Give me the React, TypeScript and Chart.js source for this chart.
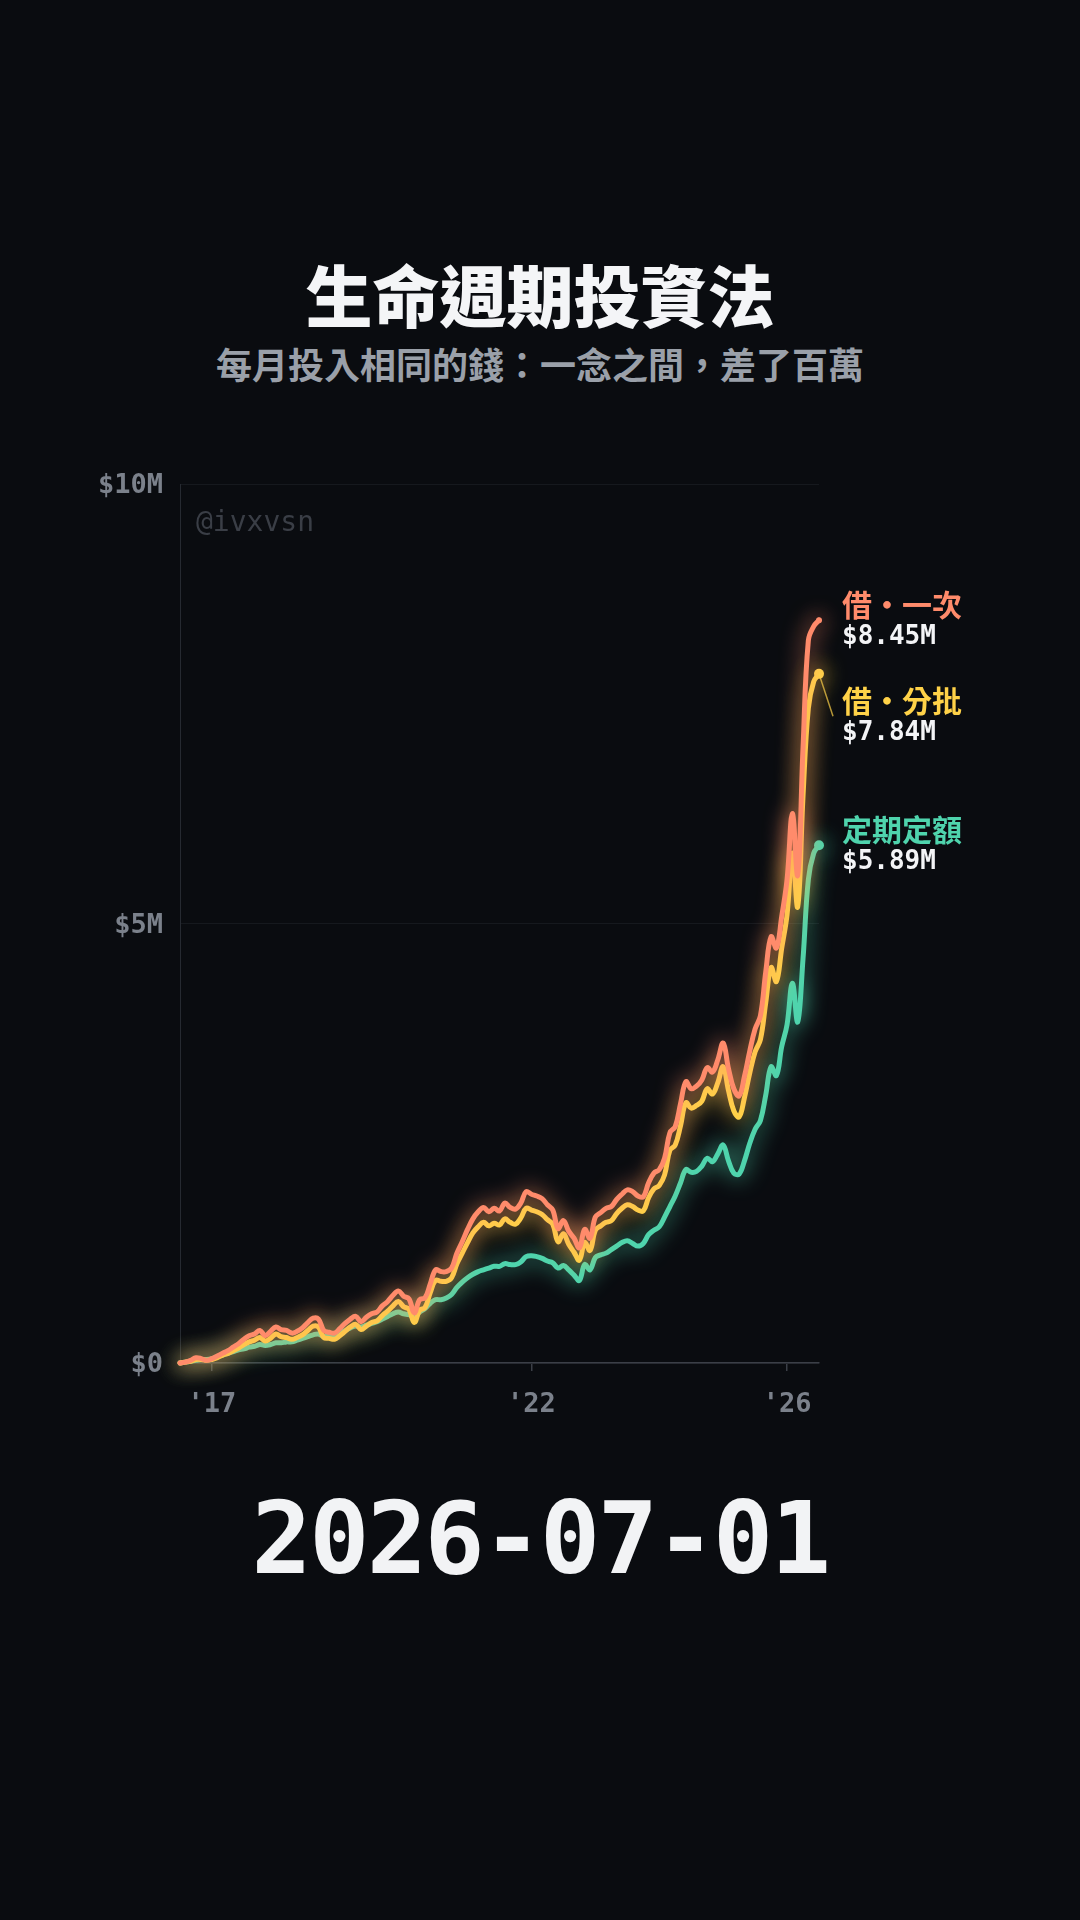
import React, { useEffect, useRef } from "react";
import { Chart, registerables } from "chart.js";

Chart.register(...registerables);

// ---- data (values in $M, monthly from 2016-07 to 2026-07) ----
const START_YEAR = 2016;
const START_MONTH = 7;

const SERIES_NAMES = ["借・一次", "借・分批", "定期定額"];
const SERIES_COLORS = ["#ff8b6b", "#ffd248", "#4fd4ad"];
const END_VALUE_LABELS = ["$8.45M", "$7.84M", "$5.89M"];

const LUMP = [
  0.0, 0.01, 0.03, 0.06, 0.05, 0.03, 0.05, 0.08, 0.11, 0.14,
  0.18, 0.22, 0.27, 0.31, 0.33, 0.37, 0.31, 0.36, 0.41, 0.38,
  0.37, 0.34, 0.36, 0.4, 0.46, 0.51, 0.5, 0.37, 0.35, 0.34,
  0.39, 0.45, 0.5, 0.53, 0.47, 0.52, 0.56, 0.58, 0.65, 0.7,
  0.77, 0.82, 0.76, 0.73, 0.57, 0.72, 0.74, 0.9, 1.06, 1.04,
  1.04, 1.08, 1.25, 1.38, 1.52, 1.64, 1.72, 1.77, 1.72, 1.76,
  1.73, 1.82, 1.77, 1.75, 1.82, 1.95, 1.92, 1.9, 1.87, 1.8,
  1.74, 1.53, 1.62, 1.5, 1.42, 1.31, 1.52, 1.42, 1.66, 1.71,
  1.76, 1.78, 1.86, 1.92, 1.97, 1.95, 1.9, 1.89, 2.05, 2.16,
  2.2, 2.33, 2.62, 2.69, 2.95, 3.2, 3.12, 3.15, 3.22, 3.36,
  3.31, 3.45, 3.64, 3.35, 3.12, 3.04, 3.26, 3.55, 3.8, 3.95,
  4.45, 4.85, 4.72, 5.08, 5.5, 6.25, 5.55, 7.0, 8.22, 8.38,
  8.45,
];

const SPLIT = [
  0.0, 0.01, 0.02, 0.04, 0.04, 0.03, 0.04, 0.06, 0.09, 0.11,
  0.14, 0.17, 0.21, 0.24, 0.26, 0.29, 0.25, 0.28, 0.33, 0.3,
  0.29, 0.27, 0.29, 0.32, 0.37, 0.42, 0.41, 0.29, 0.28, 0.27,
  0.31, 0.36, 0.41, 0.44, 0.38, 0.42, 0.46, 0.48, 0.54, 0.59,
  0.65, 0.7, 0.64, 0.61, 0.46, 0.6, 0.63, 0.8, 0.94, 0.93,
  0.93, 0.97, 1.13, 1.25, 1.37, 1.48, 1.55, 1.6, 1.56, 1.59,
  1.57, 1.64, 1.6, 1.58, 1.65, 1.76, 1.74, 1.72, 1.69, 1.63,
  1.58, 1.38, 1.47, 1.35, 1.26, 1.17, 1.37, 1.28, 1.51, 1.56,
  1.6, 1.62, 1.7, 1.76, 1.8, 1.78, 1.74, 1.73, 1.88, 1.98,
  2.02, 2.14, 2.42, 2.48, 2.7, 2.96, 2.9, 2.93, 2.98, 3.12,
  3.06, 3.19, 3.37, 3.1, 2.87, 2.8, 3.02, 3.3, 3.54, 3.68,
  4.1, 4.5, 4.34, 4.72, 5.1, 5.8, 5.19, 6.45, 7.45, 7.75,
  7.84,
];

const DCA = [
  0.0, 0.01, 0.02, 0.03, 0.04, 0.04, 0.05, 0.07, 0.09, 0.11,
  0.13, 0.15, 0.16, 0.18, 0.19, 0.21, 0.2, 0.21, 0.23, 0.23,
  0.24, 0.24, 0.26, 0.28, 0.3, 0.32, 0.33, 0.3, 0.31, 0.32,
  0.35, 0.37, 0.4, 0.42, 0.41, 0.43, 0.45, 0.47, 0.5, 0.53,
  0.56, 0.58, 0.56, 0.55, 0.52, 0.58, 0.62, 0.68, 0.72, 0.72,
  0.74, 0.78, 0.86, 0.92, 0.97, 1.01, 1.04, 1.06, 1.08, 1.1,
  1.1, 1.13, 1.12, 1.12, 1.15, 1.21, 1.22, 1.21, 1.19, 1.16,
  1.14, 1.08, 1.11, 1.06, 1.0, 0.94, 1.12, 1.06, 1.2, 1.23,
  1.25, 1.29, 1.33, 1.37, 1.39, 1.36, 1.33, 1.36, 1.46, 1.51,
  1.55, 1.66, 1.78, 1.9, 2.05, 2.2, 2.17, 2.18, 2.24, 2.33,
  2.29, 2.38, 2.48, 2.3, 2.16, 2.15, 2.3, 2.5, 2.66, 2.76,
  3.05, 3.37, 3.27, 3.6, 3.85, 4.32, 3.88, 4.6, 5.5, 5.8,
  5.89,
];

const SERIES = [LUMP, SPLIT, DCA];

const X_TICK_MONTHS = ["2017-01", "2022-01", "2026-01"];
const X_TICK_LABELS = ["'17", "'22", "'26"];
const Y_TICKS = [0, 5, 10];
const Y_TICK_LABELS = ["$0", "$5M", "$10M"];

const TITLE = "生命週期投資法";
const SUBTITLE = "每月投入相同的錢：一念之間，差了百萬";
const WATERMARK = "@ivxvsn";
const DATE_LABEL = "2026-07-01";

// ---- styles ----
const BG = "#0a0c10";
const MONO = '"DejaVu Sans Mono", "Liberation Mono", monospace';
const CJK = '"Noto Sans CJK TC", "Noto Sans CJK SC", sans-serif';

function monthIndex(ym: string): number {
  const [y, m] = ym.split("-").map(Number);
  return (y - START_YEAR) * 12 + (m - START_MONTH);
}

const X_TICK_IDX = X_TICK_MONTHS.map(monthIndex);
const LAST_IDX = LUMP.length - 1;

const glowPlugin = {
  id: "glow",
  beforeDatasetDraw(chart: any, args: any) {
    const ctx = chart.ctx;
    ctx.save();
    ctx.shadowColor = chart.data.datasets[args.index].borderColor;
    ctx.shadowBlur = 22;
  },
  afterDatasetDraw(chart: any) {
    chart.ctx.restore();
  },
};

const watermarkPlugin = {
  id: "watermark",
  beforeDatasetsDraw(chart: any) {
    const { ctx, chartArea } = chart;
    ctx.save();
    ctx.font = `28px ${MONO}`;
    ctx.fillStyle = "#3a3e46";
    ctx.textAlign = "left";
    ctx.textBaseline = "middle";
    ctx.fillText(WATERMARK, chartArea.left + 16, chartArea.top + 40);
    ctx.restore();
  },
};

const endLabelPlugin = {
  id: "endLabels",
  afterDatasetsDraw(chart: any) {
    const ctx = chart.ctx;
    const items = chart.data.datasets.map((_: any, i: number) => {
      const meta = chart.getDatasetMeta(i);
      const pt = meta.data[meta.data.length - 1];
      return { i, x: pt.x, y: pt.y, ly: pt.y };
    });
    items.sort((a: any, b: any) => a.y - b.y);
    let prev = -Infinity;
    for (const it of items) {
      it.ly = Math.max(it.y, prev + 96);
      prev = it.ly;
    }
    ctx.save();
    for (const it of items) {
      const color = SERIES_COLORS[it.i];
      const lx = it.x + 23;
      if (it.ly - it.y > 4) {
        ctx.strokeStyle = color;
        ctx.globalAlpha = 0.7;
        ctx.lineWidth = 1.5;
        ctx.beginPath();
        ctx.moveTo(it.x, it.y);
        ctx.lineTo(lx - 9, it.ly);
        ctx.stroke();
        ctx.globalAlpha = 1;
      }
      ctx.textAlign = "left";
      ctx.textBaseline = "middle";
      ctx.fillStyle = color;
      ctx.font = `bold 30px ${CJK}`;
      ctx.fillText(SERIES_NAMES[it.i], lx, it.ly - 16);
      ctx.fillStyle = "#f3f4f6";
      ctx.font = `bold 26px ${MONO}`;
      ctx.fillText(END_VALUE_LABELS[it.i], lx, it.ly + 17);
    }
    ctx.restore();
  },
};

export default function App() {
  const canvasRef = useRef<HTMLCanvasElement | null>(null);

  useEffect(() => {
    document.body.style.margin = "0";
    document.body.style.background = BG;
    const canvas = canvasRef.current;
    if (!canvas) return;

    const datasets = SERIES.map((vals, s) => ({
      label: SERIES_NAMES[s],
      data: vals.map((v, i) => ({ x: i, y: v })),
      borderColor: SERIES_COLORS[s],
      backgroundColor: SERIES_COLORS[s],
      borderWidth: 5,
      tension: 0.4,
      borderCapStyle: "round" as const,
      borderJoinStyle: "round" as const,
      pointRadius: vals.map((_, i) => (i === LAST_IDX ? (s === 0 ? 3 : 5) : 0)),
      pointBackgroundColor: SERIES_COLORS[s],
      pointBorderWidth: 0,
      clip: false as const,
    }));

    const chart = new Chart(canvas, {
      type: "line",
      data: { datasets },
      options: {
        responsive: false,
        animation: false,
        layout: { padding: { left: 0, top: 84, right: 261, bottom: 77 } },
        plugins: {
          legend: { display: false },
          tooltip: { enabled: false },
        },
        scales: {
          x: {
            type: "linear",
            min: 0,
            max: LAST_IDX,
            afterBuildTicks: (scale: any) => {
              scale.ticks = X_TICK_IDX.map((v) => ({ value: v }));
            },
            afterFit: (scale: any) => {
              scale.height = 60;
            },
            ticks: {
              autoSkip: false,
              maxRotation: 0,
              padding: 18,
              color: "#7b818b",
              font: { family: MONO, size: 27, weight: "bold" },
              callback: (v: any) => {
                const k = X_TICK_IDX.indexOf(Number(v));
                return k >= 0 ? X_TICK_LABELS[k] : "";
              },
            },
            grid: {
              drawOnChartArea: false,
              drawTicks: true,
              tickLength: 8,
              color: "#3b3f47",
              lineWidth: 1.5,
            },
            border: { color: "#3b3f47", width: 1.5 },
          },
          y: {
            min: 0,
            max: 10,
            afterBuildTicks: (scale: any) => {
              scale.ticks = Y_TICKS.map((v) => ({ value: v }));
            },
            afterFit: (scale: any) => {
              scale.width = 180;
            },
            ticks: {
              padding: 17,
              labelOffset: 2,
              color: "#7b818b",
              font: { family: MONO, size: 27, weight: "bold" },
              callback: (v: any) => {
                const k = Y_TICKS.indexOf(Number(v));
                return k >= 0 ? Y_TICK_LABELS[k] : "";
              },
            },
            grid: { color: "#16191e", drawTicks: false, lineWidth: 1 },
            border: { color: "#262a31", width: 1 },
          },
        },
      },
      plugins: [watermarkPlugin, glowPlugin, endLabelPlugin],
    });

    return () => chart.destroy();
  }, []);

  return (
    <div
      style={{
        position: "relative",
        width: 1080,
        height: 1920,
        background: BG,
        overflow: "hidden",
      }}
    >
      <div
        style={{
          position: "absolute",
          left: 0,
          top: 296 - 43,
          width: 1080,
          height: 80,
          lineHeight: "80px",
          textAlign: "center",
          fontFamily: CJK,
          fontWeight: 900,
          fontSize: 67,
          color: "#f4f5f7",
        }}
      >
        {TITLE}
      </div>
      <div
        style={{
          position: "absolute",
          left: 0,
          top: 365 - 27,
          width: 1080,
          height: 50,
          lineHeight: "50px",
          textAlign: "center",
          fontFamily: CJK,
          fontWeight: 700,
          fontSize: 36,
          color: "#9aa0a9",
        }}
      >
        {SUBTITLE}
      </div>
      <canvas
        ref={canvasRef}
        width={1080}
        height={1100}
        style={{ position: "absolute", left: 0, top: 400, width: 1080, height: 1100 }}
      />
      <div
        style={{
          position: "absolute",
          left: 0,
          top: 1539 - 60,
          width: 1080,
          height: 120,
          lineHeight: "120px",
          textAlign: "center",
          fontFamily: MONO,
          fontWeight: 700,
          fontSize: 100,
          letterSpacing: "-2.5px",
          color: "#f2f3f5",
        }}
      >
        {DATE_LABEL}
      </div>
    </div>
  );
}
